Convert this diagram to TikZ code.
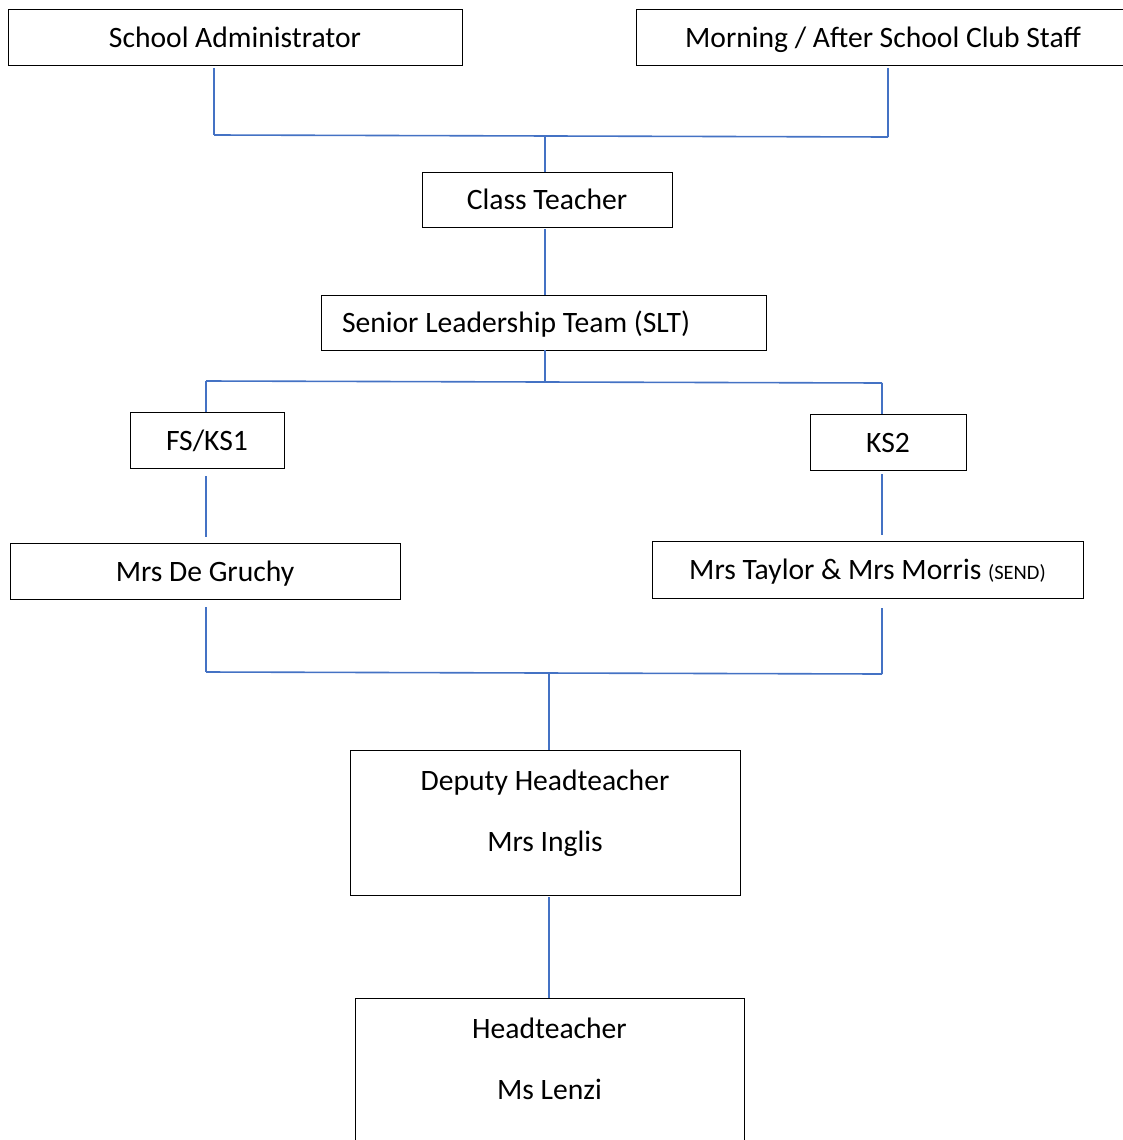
\documentclass[tikz,border=0pt]{standalone}
\usepackage{fontspec}
\setmainfont{Carlito}
\definecolor{linkblue}{HTML}{4472C4}
\begin{document}
\begin{tikzpicture}[x=1pt,y=-1pt,
 box/.style={draw=black, line width=1pt, rectangle, inner sep=0pt, text height=22pt, text depth=2pt, font=\fontsize{29.6}{35}\selectfont},
 conn/.style={draw=linkblue, line width=1.6pt},
 txt/.style={inner sep=0pt, anchor=base, font=\fontsize{29.6}{35}\selectfont}]
\useasboundingbox (0,0) rectangle (1123,1140);
\clip (0,0) rectangle (1123,1140);
% boxes
\node[box, minimum width=454pt, minimum height=56pt] (sa) at (235,38) {School Administrator};
\node[box, minimum width=494pt, minimum height=56pt] (ms) at (883,38) {Morning / After School Club Staff};
\node[box, minimum width=250pt, minimum height=55pt] (ct) at (547,199.5) {Class Teacher};
\node[box, minimum height=55pt, text width=403pt, inner xsep=21pt, align=flush left] (slt) at (543.5,322.5) {Senior Leadership Team (SLT)};
\node[box, minimum width=154pt, minimum height=56pt] (fs) at (207,440) {FS/KS1};
\node[box, minimum width=156pt, minimum height=56pt] (ks) at (888,442) {KS2};
\node[box, minimum width=390pt, minimum height=56pt] (dg) at (205,571) {Mrs De Gruchy};
\node[box, minimum width=431pt, minimum height=57pt] (tm) at (867.5,569.5) {Mrs Taylor \& Mrs Morris {\fontsize{20.5}{24}\selectfont(SEND)}};
\node[box, minimum width=390pt, minimum height=145pt] (dh) at (545,822.5) {};
\node[txt] (dht) at (545,790) {Deputy Headteacher};
\node[txt] (dhn) at (545,851) {Mrs Inglis};
\node[box, minimum width=389pt, minimum height=160pt] (ht) at (549.5,1078) {};
\node[txt] (htt) at (549.5,1038) {Headteacher};
\node[txt] (htn) at (549.5,1099) {Ms Lenzi};
% junction coordinates
\coordinate (a1) at (214,68);
\coordinate (a2) at (214,135);
\coordinate (b1) at (888,68);
\coordinate (b2) at (888,137);
\coordinate (c1) at (545,136);
\coordinate (c2) at (545,172);
\coordinate (d1) at (545,229);
\coordinate (d2) at (545,295);
\coordinate (e1) at (545,350);
\coordinate (e2) at (545,382);
\coordinate (f1) at (206,381);
\coordinate (f2) at (206,412);
\coordinate (g1) at (882,383);
\coordinate (g2) at (882,414);
\coordinate (h1) at (206,476);
\coordinate (h2) at (206,537);
\coordinate (i1) at (882,474);
\coordinate (i2) at (882,535);
\coordinate (j1) at (206,607);
\coordinate (j2) at (206,672);
\coordinate (k1) at (882,608);
\coordinate (k2) at (882,674);
\coordinate (l1) at (549,673);
\coordinate (l2) at (549,750);
\coordinate (m1) at (549,897);
\coordinate (m2) at (549,998);
% connectors
\draw[conn] (a1) -- (a2);
\draw[conn] (b1) -- (b2);
\draw[conn] (a2) -- (b2);
\draw[conn] (c1) -- (c2);
\draw[conn] (d1) -- (d2);
\draw[conn] (e1) -- (e2);
\draw[conn] (f1) -- (g1);
\draw[conn] (f1) -- (f2);
\draw[conn] (g1) -- (g2);
\draw[conn] (h1) -- (h2);
\draw[conn] (i1) -- (i2);
\draw[conn] (j1) -- (j2);
\draw[conn] (k1) -- (k2);
\draw[conn] (j2) -- (k2);
\draw[conn] (l1) -- (l2);
\draw[conn] (m1) -- (m2);
\end{tikzpicture}
\end{document}
